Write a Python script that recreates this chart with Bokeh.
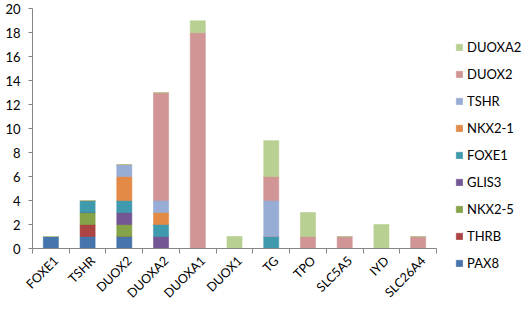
from bokeh.plotting import figure
from bokeh.models import FixedTicker, Legend, LegendItem, ColumnDataSource, LinearAxis
from bokeh.embed import file_html
from bokeh.resources import INLINE
import math

genes = ["FOXE1", "TSHR", "DUOX2", "DUOXA2", "DUOXA1", "DUOX1", "TG", "TPO", "SLC5A5", "IYD", "SLC26A4"]
series = ["PAX8", "THRB", "NKX2-5", "GLIS3", "FOXE1", "NKX2-1", "TSHR", "DUOX2", "DUOXA2"]
PAX8   = [1, 1, 1, 0, 0, 0, 0, 0, 0, 0, 0]
THRB   = [0, 1, 0, 0, 0, 0, 0, 0, 0, 0, 0]
NKX2_5 = [0, 1, 1, 0, 0, 0, 0, 0, 0, 0, 0]
GLIS3  = [0, 0, 1, 1, 0, 0, 0, 0, 0, 0, 0]
FOXE1  = [0, 1, 1, 1, 0, 0, 1, 0, 0, 0, 0]
NKX2_1 = [0, 0, 2, 1, 0, 0, 0, 0, 0, 0, 0]
TSHR   = [0, 0, 1, 1, 0, 0, 3, 0, 0, 0, 0]
DUOX2  = [0, 0, 0, 9, 18, 0, 2, 1, 1, 0, 1]
DUOXA2 = [0, 0, 0, 0, 1, 1, 3, 2, 0, 2, 0]
values = [PAX8, THRB, NKX2_5, GLIS3, FOXE1, NKX2_1, TSHR, DUOX2, DUOXA2]
colors = ["#3C6DA8", "#A83A3A", "#7E9E3E", "#6B4E8E", "#3595AA", "#E0843C", "#92A9D3", "#CF8F8F", "#B4CD8C"]
y_ticks = list(range(0, 21, 2))

FONT = "Lato"
n = len(genes)
xs = list(range(n))

W, H = 521, 301
AX_X = 32          # y axis position (px from left)
CAT = 36.73        # px per category
Y0 = 248           # px from top for y = 0
Y20 = 8.3          # px from top for y = 20
upp = 20.0 / (Y0 - Y20)
x_start = -0.5 - AX_X / CAT
x_end = x_start + W / CAT
y_start = -(H - Y0) * upp
y_end = 20 + Y20 * upp

p = figure(width=W, height=H, output_backend="svg", toolbar_location=None,
           x_range=(x_start, x_end), y_range=(y_start, y_end),
           x_axis_location=None, y_axis_location=None,
           min_border_left=0, min_border_right=0, min_border_top=0, min_border_bottom=0)
p.outline_line_color = None
p.xgrid.grid_line_color = None
p.ygrid.grid_line_color = None

data = {"x": xs}
for name, v in zip(series, values):
    data[name] = v
src = ColumnDataSource(data)
renderers = p.vbar_stack(series, x="x", width=0.41, source=src, fill_color=colors,
                         line_color=colors, line_alpha=0.55, fill_alpha=0.95, line_width=1)

# x axis at y = 0, ticks between categories
shift = 0.14
label_ticks = [i + shift for i in xs]
xaxis = LinearAxis(fixed_location=0, bounds=(-0.5, n - 0.5))
xaxis.ticker = FixedTicker(ticks=label_ticks, minor_ticks=[i - 0.5 for i in range(n + 1)])
xaxis.major_label_overrides = {t: g for t, g in zip(label_ticks, genes)}
xaxis.major_tick_line_color = None
xaxis.major_tick_out = 5
xaxis.minor_tick_out = 5
xaxis.minor_tick_in = 0
xaxis.minor_tick_line_color = "#868686"
xaxis.axis_line_color = "#868686"
xaxis.major_label_orientation = math.pi / 4
xaxis.major_label_text_font = FONT
xaxis.major_label_text_font_size = "12.5px"
xaxis.major_label_text_color = "#000000"
xaxis.major_label_standoff = 5
p.add_layout(xaxis, "below")

# y axis at x = -0.5
yaxis = LinearAxis(fixed_location=-0.5, bounds=(0, 20))
yaxis.ticker = FixedTicker(ticks=y_ticks)
yaxis.minor_tick_line_color = None
yaxis.major_tick_out = 4
yaxis.major_tick_in = 0
yaxis.major_tick_line_color = "#868686"
yaxis.axis_line_color = "#868686"
yaxis.major_label_text_font = FONT
yaxis.major_label_text_font_size = "13px"
yaxis.major_label_text_color = "#000000"
yaxis.major_label_standoff = 8
p.add_layout(yaxis, "left")

items = [LegendItem(label=name, renderers=[r]) for name, r in zip(series, renderers)]
items.reverse()
legend = Legend(items=items, location=(455, H - 273), orientation="vertical",
                glyph_width=8, glyph_height=8, label_height=20, spacing=7,
                padding=0, margin=0, border_line_color=None, background_fill_alpha=0,
                label_text_font=FONT, label_text_font_size="13px", label_standoff=4,
                label_text_color="#000000")
p.add_layout(legend, "center")

open("out.html", "w").write(file_html(p, INLINE))
